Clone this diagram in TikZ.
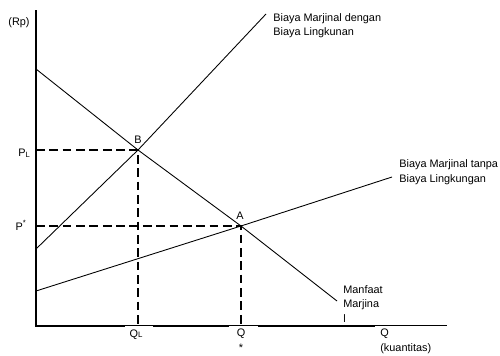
\documentclass[tikz,border=0pt]{standalone}
\usepackage{fontspec}
\setmainfont{Liberation Sans}

\begin{document}
\begin{tikzpicture}[x=0.02cm,y=-0.02cm,
    every node/.style={font=\fontsize{6.2}{8.2}\selectfont,inner sep=0pt,align=left},
    curve/.style={line width=0.5pt},
    guide/.style={line width=1.5pt,dash pattern=on 5pt off 2.6pt}]
    \useasboundingbox (0,0) rectangle (500,355);
    \coordinate (O) at (36,326);
    \coordinate (B) at (138,150);
    \coordinate (A) at (241,226);
    % axes
    \draw [line width=1.7pt] (36,10) coordinate (Ytop) -- (O) -- (447,326) coordinate (Xend);
    \fill [white] (125,325.6) rectangle (153,330);
    \fill [white] (229,325.6) rectangle (258,330);
    \fill [white] (375,325.6) rectangle (448,330);
    % curves
    \draw [curve] (36,69) -- (B) -- (A) -- (337,301) coordinate (MBend);
    \draw [curve] (36,249) -- (B) -- (266,14) coordinate (MCLend);
    \draw [curve] (36,291) -- (A) -- (392,177) coordinate (MCend);
    % equilibrium guides
    \draw [guide] (36,150) -- (B) -- (138,326);
    \draw [guide] (36,226) -- (A) -- (241,326);
    % labels (base = last line)
    \node (Rp) at (19,23) {(Rp)};
    \node (Blbl) [anchor=base] at (138,143) {B};
    \node (Albl) [anchor=base] at (240,219) {A};
    \node (PL) [anchor=base east] at (31,156) {P\textsubscript{L}};
    \node (Pstar) [anchor=base east] at (27,230) {P\textsuperscript{*}};
    \node (QL) [anchor=base] at (136,337) {Q{\fontsize{4.5}{5}\selectfont L}};
    \node (Qstar) [anchor=base,align=center] at (241,351) {Q\\*};
    \node (Q) [anchor=base west] at (380,351) {Q\\(kuantitas)};
    \node (MCL) [anchor=base west] at (273,35.5) {Biaya Marjinal dengan\\Biaya Lingkunan};
    \node (MC) [anchor=base west] at (399,182) {Biaya Marjinal tanpa\\Biaya Lingkungan};
    \node (MB) [anchor=base west] at (343,322) {Manfaat\\Marjina\\l};
\end{tikzpicture}
\end{document}
